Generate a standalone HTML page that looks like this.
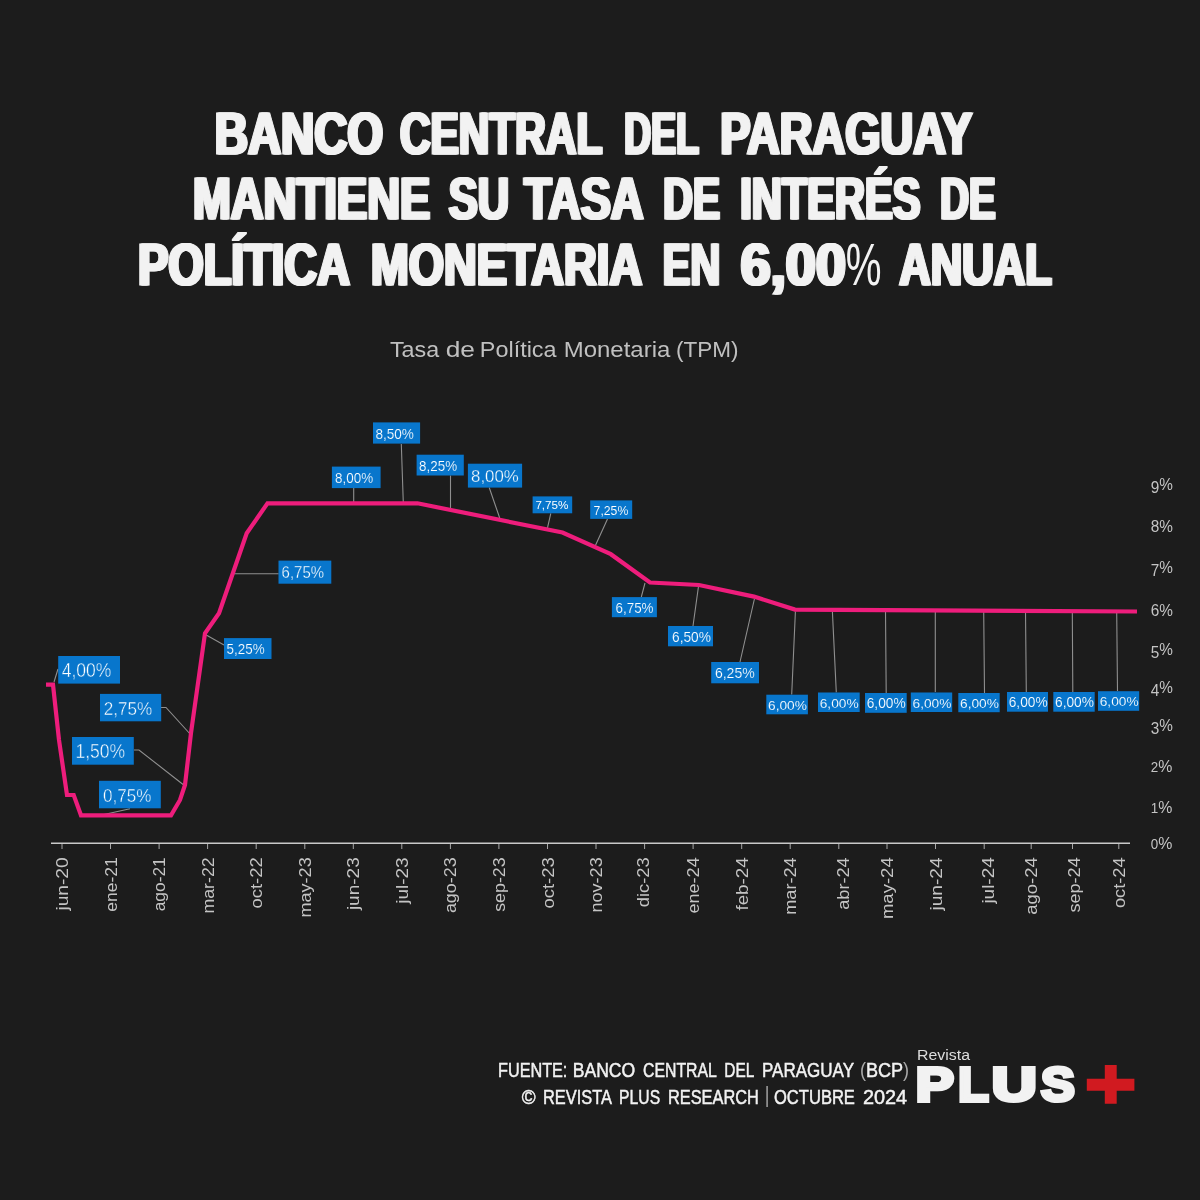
<!DOCTYPE html>
<html lang="es"><head><meta charset="utf-8"><title>Tasa de Política Monetaria</title>
<style>
html,body{margin:0;padding:0;background:#1c1c1c;}
svg{display:block;font-family:"Liberation Sans",sans-serif;}
.ttl{font-weight:bold;font-size:59.2px;fill:#f2f2f2;stroke:#f2f2f2;stroke-width:1.2px;stroke-linejoin:miter;text-shadow:1.5px 0 0 #f2f2f2,-1.5px 0 0 #f2f2f2;}
.pct{font-weight:normal;text-shadow:none;stroke:none;}
.sub{font-size:21.5px;fill:#c0c0c0;}
.xl{font-size:17px;fill:#c4c4c4;}
.yl{font-size:17.2px;fill:#c4c4c4;}
.lb{fill:#ffffff;stroke:#0876cc;}
.ft{font-size:20.5px;fill:#f2f2f2;stroke:#f2f2f2;stroke-width:0.5px;}
.thin{fill:#a8a8a8;stroke:none;}
</style></head><body>
<svg width="1200" height="1200" viewBox="0 0 1200 1200">
<rect width="1200" height="1200" fill="#1c1c1c"/>
<text class="ttl" transform="translate(214.92 153.6) scale(0.7747 1)">BANCO</text>
<text class="ttl" transform="translate(400.00 153.6) scale(0.7154 1)">CENTRAL</text>
<text class="ttl" transform="translate(624.12 153.6) scale(0.6338 1)">DEL</text>
<text class="ttl" transform="translate(720.18 153.6) scale(0.7660 1)">PARAGUAY</text>
<text class="ttl" transform="translate(192.93 219.2) scale(0.7682 1)">MANTIENE</text>
<text class="ttl" transform="translate(448.64 219.2) scale(0.7345 1)">SU</text>
<text class="ttl" transform="translate(524.06 219.2) scale(0.7618 1)">TASA</text>
<text class="ttl" transform="translate(663.31 219.2) scale(0.6925 1)">DE</text>
<text class="ttl" transform="translate(740.29 219.2) scale(0.7023 1)">INTERÉS</text>
<text class="ttl" transform="translate(940.21 219.2) scale(0.6723 1)">DE</text>
<text class="ttl" transform="translate(138.15 285.1) scale(0.7664 1)">POLÍTICA</text>
<text class="ttl" transform="translate(370.94 285.1) scale(0.7660 1)">MONETARIA</text>
<text class="ttl" transform="translate(662.61 285.1) scale(0.7026 1)">EN</text>
<text class="ttl" transform="translate(740.65 285.1) scale(0.9134 1)">6,00</text>
<text class="ttl pct" transform="translate(845.74 285.1) scale(0.6799 1)">%</text>
<text class="ttl" transform="translate(899.24 285.1) scale(0.7375 1)">ANUAL</text>
<text class="sub" transform="translate(389.91 356.5) scale(1.0845 1)">Tasa</text>
<text class="sub" transform="translate(445.72 356.5) scale(1.2254 1)">de</text>
<text class="sub" transform="translate(479.86 356.5) scale(1.0875 1)">Política</text>
<text class="sub" transform="translate(563.78 356.5) scale(1.1147 1)">Monetaria</text>
<text class="sub" transform="translate(675.92 356.5) scale(1.0486 1)">(TPM)</text>
<g stroke="#c9c9c9" stroke-width="1.4" fill="none">
<path d="M51 843.2H1130"/>
<path stroke-width="1" stroke-opacity="0.8" d="M62.0 843V849M110.5 843V849M159.1 843V849M207.6 843V849M256.2 843V849M304.8 843V849M353.3 843V849M401.8 843V849M450.4 843V849M498.9 843V849M547.5 843V849M596.0 843V849M644.6 843V849M693.1 843V849M741.7 843V849M790.2 843V849M838.8 843V849M887.0 843V849M935.5 843V849M984.2 843V849M1031.2 843V849M1072.5 843V849M1118.8 843V849"/>
</g>
<text class="xl" transform="translate(68.0 857.3) rotate(-90)" text-anchor="end" textLength="53.3" lengthAdjust="spacingAndGlyphs">jun-20</text>
<text class="xl" transform="translate(116.5 857.3) rotate(-90)" text-anchor="end" textLength="54.5" lengthAdjust="spacingAndGlyphs">ene-21</text>
<text class="xl" transform="translate(165.1 857.3) rotate(-90)" text-anchor="end" textLength="54.0" lengthAdjust="spacingAndGlyphs">ago-21</text>
<text class="xl" transform="translate(213.6 857.3) rotate(-90)" text-anchor="end" textLength="56.3" lengthAdjust="spacingAndGlyphs">mar-22</text>
<text class="xl" transform="translate(262.2 857.3) rotate(-90)" text-anchor="end" textLength="51.3" lengthAdjust="spacingAndGlyphs">oct-22</text>
<text class="xl" transform="translate(310.8 857.3) rotate(-90)" text-anchor="end" textLength="60.3" lengthAdjust="spacingAndGlyphs">may-23</text>
<text class="xl" transform="translate(359.3 857.3) rotate(-90)" text-anchor="end" textLength="52.8" lengthAdjust="spacingAndGlyphs">jun-23</text>
<text class="xl" transform="translate(407.8 857.3) rotate(-90)" text-anchor="end" textLength="46.5" lengthAdjust="spacingAndGlyphs">jul-23</text>
<text class="xl" transform="translate(456.4 857.3) rotate(-90)" text-anchor="end" textLength="55.8" lengthAdjust="spacingAndGlyphs">ago-23</text>
<text class="xl" transform="translate(504.9 857.3) rotate(-90)" text-anchor="end" textLength="54.5" lengthAdjust="spacingAndGlyphs">sep-23</text>
<text class="xl" transform="translate(553.5 857.3) rotate(-90)" text-anchor="end" textLength="51.3" lengthAdjust="spacingAndGlyphs">oct-23</text>
<text class="xl" transform="translate(602.0 857.3) rotate(-90)" text-anchor="end" textLength="55.3" lengthAdjust="spacingAndGlyphs">nov-23</text>
<text class="xl" transform="translate(649.1 857.3) rotate(-90)" text-anchor="end" textLength="50.0" lengthAdjust="spacingAndGlyphs">dic-23</text>
<text class="xl" transform="translate(699.1 857.3) rotate(-90)" text-anchor="end" textLength="56.3" lengthAdjust="spacingAndGlyphs">ene-24</text>
<text class="xl" transform="translate(747.7 857.3) rotate(-90)" text-anchor="end" textLength="53.3" lengthAdjust="spacingAndGlyphs">feb-24</text>
<text class="xl" transform="translate(796.2 857.3) rotate(-90)" text-anchor="end" textLength="57.5" lengthAdjust="spacingAndGlyphs">mar-24</text>
<text class="xl" transform="translate(848.5 857.3) rotate(-90)" text-anchor="end" textLength="52.5" lengthAdjust="spacingAndGlyphs">abr-24</text>
<text class="xl" transform="translate(893.0 857.3) rotate(-90)" text-anchor="end" textLength="61.8" lengthAdjust="spacingAndGlyphs">may-24</text>
<text class="xl" transform="translate(941.5 857.3) rotate(-90)" text-anchor="end" textLength="53.3" lengthAdjust="spacingAndGlyphs">jun-24</text>
<text class="xl" transform="translate(993.8 857.3) rotate(-90)" text-anchor="end" textLength="46.3" lengthAdjust="spacingAndGlyphs">jul-24</text>
<text class="xl" transform="translate(1037.2 857.3) rotate(-90)" text-anchor="end" textLength="57.5" lengthAdjust="spacingAndGlyphs">ago-24</text>
<text class="xl" transform="translate(1079.5 857.3) rotate(-90)" text-anchor="end" textLength="55.3" lengthAdjust="spacingAndGlyphs">sep-24</text>
<text class="xl" transform="translate(1124.8 857.3) rotate(-90)" text-anchor="end" textLength="50.8" lengthAdjust="spacingAndGlyphs">oct-24</text>
<text class="yl" x="1150.7" y="849.2" textLength="21.6" lengthAdjust="spacingAndGlyphs"><tspan font-size="14.5">0</tspan>%</text>
<text class="yl" x="1150.7" y="812.5" textLength="21.6" lengthAdjust="spacingAndGlyphs"><tspan font-size="14.5">1</tspan>%</text>
<text class="yl" x="1150.7" y="772.1" textLength="21.6" lengthAdjust="spacingAndGlyphs"><tspan font-size="14.5">2</tspan>%</text>
<text class="yl" x="1150.7" y="730.8" textLength="22.2" lengthAdjust="spacingAndGlyphs"><tspan dy="3">3</tspan><tspan dy="-3">%</tspan></text>
<text class="yl" x="1150.7" y="693.2" textLength="22.2" lengthAdjust="spacingAndGlyphs"><tspan dy="3">4</tspan><tspan dy="-3">%</tspan></text>
<text class="yl" x="1150.7" y="655.3" textLength="22.2" lengthAdjust="spacingAndGlyphs"><tspan dy="3">5</tspan><tspan dy="-3">%</tspan></text>
<text class="yl" x="1150.7" y="615.8" textLength="22.2" lengthAdjust="spacingAndGlyphs">6%</text>
<text class="yl" x="1150.7" y="572.5" textLength="22.2" lengthAdjust="spacingAndGlyphs"><tspan dy="3">7</tspan><tspan dy="-3">%</tspan></text>
<text class="yl" x="1150.7" y="531.7" textLength="22.2" lengthAdjust="spacingAndGlyphs">8%</text>
<text class="yl" x="1150.7" y="490.0" textLength="22.2" lengthAdjust="spacingAndGlyphs"><tspan dy="3">9</tspan><tspan dy="-3">%</tspan></text>
<path stroke="#8f8f8f" stroke-width="1.1" fill="none" d="M58 669L54 682M161 707.5H166L191 735M134 750H139L185 786M130 808.7L101.7 815M278.7 573.8H232.5M224 645L205.8 634.7M353.7 488V503M401.3 444L403.3 503M450.5 475.5V508.3M489.2 487.5L499.7 518M550.8 513.3L547.5 527.8M607.5 519L595.3 545.8M641.3 597L645 583M693 626L698.4 587M740 662L754.4 599M791.7 694.6L795.4 611.6M836.3 692.4L832.4 611.6M886.2 693L885.5 611M935.3 692V611M984.5 693L983.7 611M1026.3 692L1025.5 611M1072.8 692L1072.3 611M1117.5 691L1116.7 611"/>
<polyline fill="none" stroke="#ee1d7c" stroke-width="4.2" stroke-linejoin="miter" points="46.0,684.7 53.0,684.7 59.0,740.0 67.0,795.0 73.7,795.0 81.0,815.3 171.0,815.3 180.0,800.0 185.0,785.0 191.0,733.0 205.0,633.3 219.0,613.3 246.7,533.3 267.5,503.3 417.5,503.3 562.5,532.5 610.8,554.2 650.0,582.5 699.0,585.0 754.0,596.6 795.0,609.6 1137.0,611.5"/>
<rect x="58.2" y="656.0" width="61.8" height="27.6" fill="#0876cc"/>
<text class="lb" x="61.7" y="677.3" font-size="19.3" stroke-width="0.45" textLength="49.7" lengthAdjust="spacingAndGlyphs">4,00%</text>
<rect x="100.0" y="693.9" width="61.2" height="27.4" fill="#0876cc"/>
<text class="lb" x="103.7" y="715.1" font-size="19.2" stroke-width="0.45" textLength="48.5" lengthAdjust="spacingAndGlyphs">2,75%</text>
<rect x="72.0" y="737.0" width="61.8" height="27.7" fill="#0876cc"/>
<text class="lb" x="75.5" y="758.4" font-size="19.4" stroke-width="0.45" textLength="49.7" lengthAdjust="spacingAndGlyphs">1,50%</text>
<rect x="99.0" y="780.8" width="61.8" height="27.5" fill="#0876cc"/>
<text class="lb" x="103.0" y="802.0" font-size="19.2" stroke-width="0.45" textLength="48.5" lengthAdjust="spacingAndGlyphs">0,75%</text>
<rect x="278.5" y="560.6" width="52.8" height="23.1" fill="#0876cc"/>
<text class="lb" x="281.6" y="578.4" font-size="16.2" stroke-width="0.28" textLength="42.4" lengthAdjust="spacingAndGlyphs">6,75%</text>
<rect x="224.0" y="638.1" width="47.5" height="20.9" fill="#0876cc"/>
<text class="lb" x="226.6" y="654.2" font-size="14.6" stroke-width="0.19" textLength="38.0" lengthAdjust="spacingAndGlyphs">5,25%</text>
<rect x="331.9" y="466.6" width="48.7" height="21.5" fill="#0876cc"/>
<text class="lb" x="335.1" y="483.2" font-size="15.0" stroke-width="0.21" textLength="38.1" lengthAdjust="spacingAndGlyphs">8,00%</text>
<rect x="373.0" y="422.4" width="47.1" height="21.2" fill="#0876cc"/>
<text class="lb" x="375.4" y="438.8" font-size="14.8" stroke-width="0.20" textLength="38.5" lengthAdjust="spacingAndGlyphs">8,50%</text>
<rect x="416.6" y="454.7" width="47.2" height="20.8" fill="#0876cc"/>
<text class="lb" x="419.1" y="470.8" font-size="14.6" stroke-width="0.18" textLength="38.0" lengthAdjust="spacingAndGlyphs">8,25%</text>
<rect x="467.9" y="463.7" width="54.2" height="23.9" fill="#0876cc"/>
<text class="lb" x="471.1" y="482.2" font-size="16.7" stroke-width="0.31" textLength="47.7" lengthAdjust="spacingAndGlyphs">8,00%</text>
<rect x="532.6" y="496.4" width="39.6" height="16.9" fill="#0876cc"/>
<text class="lb" x="535.4" y="509.4" font-size="11.8" stroke-width="0.02" textLength="33.0" lengthAdjust="spacingAndGlyphs">7,75%</text>
<rect x="590.2" y="500.4" width="42.0" height="18.5" fill="#0876cc"/>
<text class="lb" x="593.6" y="514.7" font-size="12.9" stroke-width="0.09" textLength="34.7" lengthAdjust="spacingAndGlyphs">7,25%</text>
<rect x="611.9" y="597.1" width="45.0" height="20.1" fill="#0876cc"/>
<text class="lb" x="615.5" y="612.6" font-size="14.1" stroke-width="0.15" textLength="38.0" lengthAdjust="spacingAndGlyphs">6,75%</text>
<rect x="668.0" y="626.0" width="45.0" height="20.3" fill="#0876cc"/>
<text class="lb" x="672.0" y="641.7" font-size="14.2" stroke-width="0.16" textLength="38.9" lengthAdjust="spacingAndGlyphs">6,50%</text>
<rect x="711.2" y="662.0" width="47.8" height="21.3" fill="#0876cc"/>
<text class="lb" x="714.9" y="678.4" font-size="14.9" stroke-width="0.20" textLength="39.9" lengthAdjust="spacingAndGlyphs">6,25%</text>
<rect x="766.3" y="694.7" width="41.6" height="19.6" fill="#0876cc"/>
<text class="lb" x="768.0" y="709.8" font-size="13.7" stroke-width="0.13" textLength="38.9" lengthAdjust="spacingAndGlyphs">6,00%</text>
<rect x="818.0" y="692.5" width="41.7" height="19.5" fill="#0876cc"/>
<text class="lb" x="819.7" y="707.6" font-size="13.6" stroke-width="0.13" textLength="38.9" lengthAdjust="spacingAndGlyphs">6,00%</text>
<rect x="865.0" y="693.0" width="41.7" height="19.8" fill="#0876cc"/>
<text class="lb" x="866.7" y="708.3" font-size="13.9" stroke-width="0.14" textLength="38.9" lengthAdjust="spacingAndGlyphs">6,00%</text>
<rect x="910.8" y="692.5" width="41.4" height="19.5" fill="#0876cc"/>
<text class="lb" x="912.5" y="707.6" font-size="13.6" stroke-width="0.13" textLength="38.9" lengthAdjust="spacingAndGlyphs">6,00%</text>
<rect x="958.3" y="693.0" width="41.4" height="19.2" fill="#0876cc"/>
<text class="lb" x="960.0" y="707.8" font-size="13.4" stroke-width="0.12" textLength="38.9" lengthAdjust="spacingAndGlyphs">6,00%</text>
<rect x="1007.0" y="692.0" width="41.0" height="19.7" fill="#0876cc"/>
<text class="lb" x="1008.7" y="707.2" font-size="13.8" stroke-width="0.14" textLength="38.9" lengthAdjust="spacingAndGlyphs">6,00%</text>
<rect x="1053.3" y="692.0" width="41.4" height="19.7" fill="#0876cc"/>
<text class="lb" x="1055.0" y="707.2" font-size="13.8" stroke-width="0.14" textLength="38.9" lengthAdjust="spacingAndGlyphs">6,00%</text>
<rect x="1098.0" y="691.2" width="41.2" height="19.6" fill="#0876cc"/>
<text class="lb" x="1099.7" y="706.3" font-size="13.7" stroke-width="0.13" textLength="38.9" lengthAdjust="spacingAndGlyphs">6,00%</text>
<text class="ft" transform="translate(498.03 1077.1) scale(0.7913 1)">FUENTE:</text>
<text class="ft" transform="translate(572.71 1077.1) scale(0.8579 1)">BANCO</text>
<text class="ft" transform="translate(643.01 1077.1) scale(0.7722 1)">CENTRAL</text>
<text class="ft" transform="translate(724.28 1077.1) scale(0.7509 1)">DEL</text>
<text class="ft" transform="translate(762.01 1077.1) scale(0.8311 1)">PARAGUAY</text>
<text class="ft" transform="translate(859.89 1077.1) scale(0.8819 1)"><tspan class="thin">(</tspan>BCP<tspan class="thin">)</tspan></text>
<text class="ft" transform="translate(521.87 1104.1) scale(0.9193 1)">©</text>
<text class="ft" transform="translate(543.03 1104.1) scale(0.7996 1)">REVISTA</text>
<text class="ft" transform="translate(619.10 1104.1) scale(0.7662 1)">PLUS</text>
<text class="ft" transform="translate(668.07 1104.1) scale(0.7969 1)">RESEARCH</text>
<text class="ft" transform="translate(774.00 1104.1) scale(0.8075 1)">OCTUBRE</text>
<text class="ft" transform="translate(862.91 1104.1) scale(0.9700 1)">2024</text>
<text class="ft" x="764.2" y="1101.8" style="font-size:22px;fill:#8c8c8c;stroke:none">|</text>
<text x="917" y="1059.7" font-size="15.2" fill="#dddddd" textLength="53" lengthAdjust="spacingAndGlyphs">Revista</text>
<text y="1101.0" font-size="47.5" font-weight="bold" fill="#f2f2f2" stroke="#f2f2f2" stroke-width="4"><tspan x="915.76" textLength="38.06" lengthAdjust="spacingAndGlyphs">P</tspan><tspan x="958.39" textLength="30.40" lengthAdjust="spacingAndGlyphs">L</tspan><tspan x="991.82" textLength="45.00" lengthAdjust="spacingAndGlyphs">U</tspan><tspan x="1041.07" textLength="33.73" lengthAdjust="spacingAndGlyphs">S</tspan></text>
<path fill="#d11a20" d="M1086.8 1078.8H1104.8V1065.1H1116.7V1078.8H1134.4V1090.7H1116.7V1103.7H1104.8V1090.7H1086.8Z"/>
</svg></body></html>
